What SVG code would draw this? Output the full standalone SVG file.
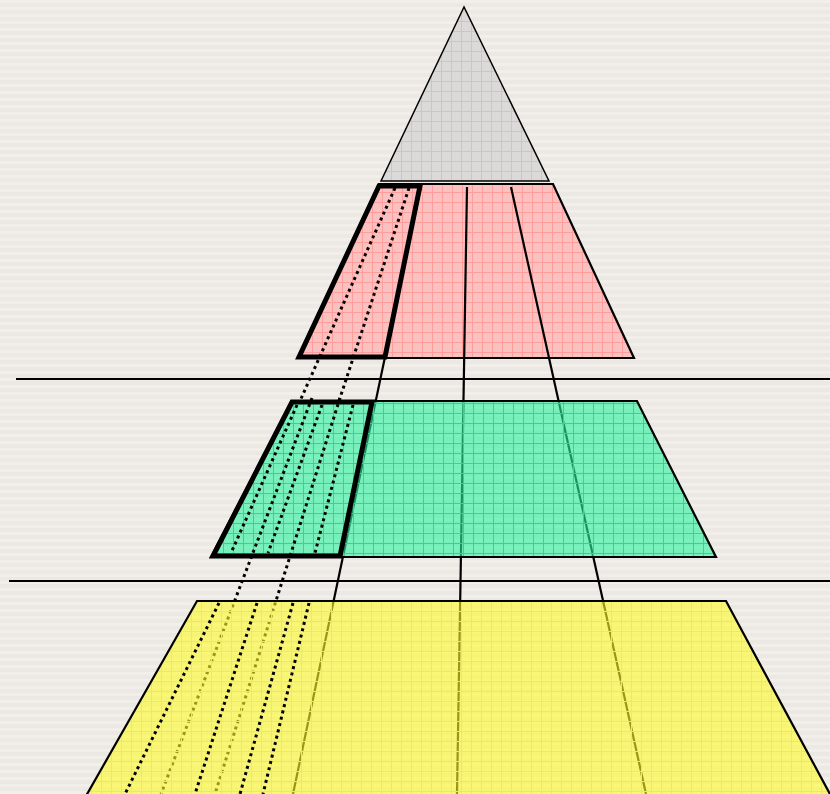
<svg xmlns="http://www.w3.org/2000/svg" width="830" height="794" viewBox="0 0 830 794">
  <defs>
    <pattern id="bg" width="8" height="7" patternUnits="userSpaceOnUse">
      <rect width="8" height="7" fill="#ece8e4"/>
      <rect y="0" width="8" height="3" fill="#f2efeb"/>
    </pattern>
    <pattern id="gridGray" width="10" height="10" patternUnits="userSpaceOnUse" x="1" y="1">
      <rect width="10" height="10" fill="#dcdad8"/>
      <path d="M0 0.5H10M0.5 0V10" stroke="#c9c7c5" stroke-width="1"/>
    </pattern>
    <pattern id="gridPink" width="10" height="10" patternUnits="userSpaceOnUse" x="2" y="2">
      <rect width="10" height="10" fill="#f9c2c0"/>
      <path d="M0 0.5H10M0.5 0V10" stroke="#ff9c9c" stroke-width="1"/>
    </pattern>
    <pattern id="gridGreen" width="10" height="10" patternUnits="userSpaceOnUse" x="3" y="3">
      <rect width="10" height="10" fill="rgb(40,243,160)" fill-opacity="0.6"/>
      <path d="M0 0.5H10M0.5 0V10" stroke="#1ee286" stroke-width="1"/>
    </pattern>
    <pattern id="gridYellow" width="10" height="10" patternUnits="userSpaceOnUse" x="1" y="1">
      <rect width="10" height="10" fill="rgb(255,250,40)" fill-opacity="0.6"/>
      <path d="M0 0.5H10M0.5 0V10" stroke="#fbf500" stroke-width="1"/>
    </pattern>
  </defs>
  <style>
    .outline { stroke: #000; stroke-width: 2.2; stroke-linejoin: miter; }
    .thick { fill: none; stroke: #000; stroke-width: 5; stroke-linejoin: miter; }
    .solid { stroke: #000; stroke-width: 2.2; fill: none; }
    .dot { stroke: #000; stroke-width: 3; stroke-dasharray: 3 3.5; fill: none; }
    .hline { stroke: #000; stroke-width: 2; }
  </style>

  <rect width="830" height="794" fill="url(#bg)"/>

  <g id="triangle">
    <polygon points="464,7 381,181 549,181" fill="url(#gridGray)" stroke="#000" stroke-width="1.5"/>
  </g>

  <g id="pink-layer">
    <polygon class="outline" points="379,184 553,184 634,358 298,358" fill="url(#gridPink)"/>
  </g>

  <g id="connectors-upper">
    <line class="dot" x1="395" y1="188" x2="300" y2="401"/>
    <line class="dot" x1="409" y1="188" x2="339" y2="401"/>
    <line class="solid" x1="421" y1="186" x2="293" y2="794"/>
    <line class="solid" x1="467" y1="187" x2="457" y2="794"/>
    <line class="solid" x1="511" y1="187" x2="646" y2="794"/>
  </g>

  <g id="pink-box">
    <polygon class="thick" points="379,186 420,186 385,357 299,357"/>
  </g>

  <g id="green-layer">
    <polygon class="outline" points="292,401 637,401 716,557 211,557" fill="url(#gridGreen)"/>
  </g>

  <g id="connectors-middle">
    <line class="dot" x1="297" y1="405" x2="231" y2="553"/>
    <line class="dot" x1="322" y1="405" x2="268" y2="553"/>
    <line class="dot" x1="353" y1="405" x2="315" y2="553"/>
    <line class="dot" x1="312" y1="398" x2="161" y2="794"/>
    <line class="dot" x1="340" y1="398" x2="215" y2="794"/>
  </g>

  <g id="green-box">
    <polygon class="thick" points="292,402 372,402 340,556 213,556"/>
  </g>

  <g id="yellow-layer">
    <polygon class="outline" points="197,601 726,601 831,796 86,796" fill="url(#gridYellow)"/>
  </g>

  <g id="connectors-lower">
    <line class="dot" x1="219" y1="603" x2="125" y2="794"/>
    <line class="dot" x1="257" y1="603" x2="195" y2="794"/>
    <line class="dot" x1="293" y1="603" x2="240" y2="794"/>
    <line class="dot" x1="309" y1="603" x2="263" y2="794"/>
  </g>

  <g id="dividers">
    <line class="hline" x1="16" y1="379" x2="830" y2="379"/>
    <line class="hline" x1="9" y1="581" x2="830" y2="581"/>
  </g>
</svg>
